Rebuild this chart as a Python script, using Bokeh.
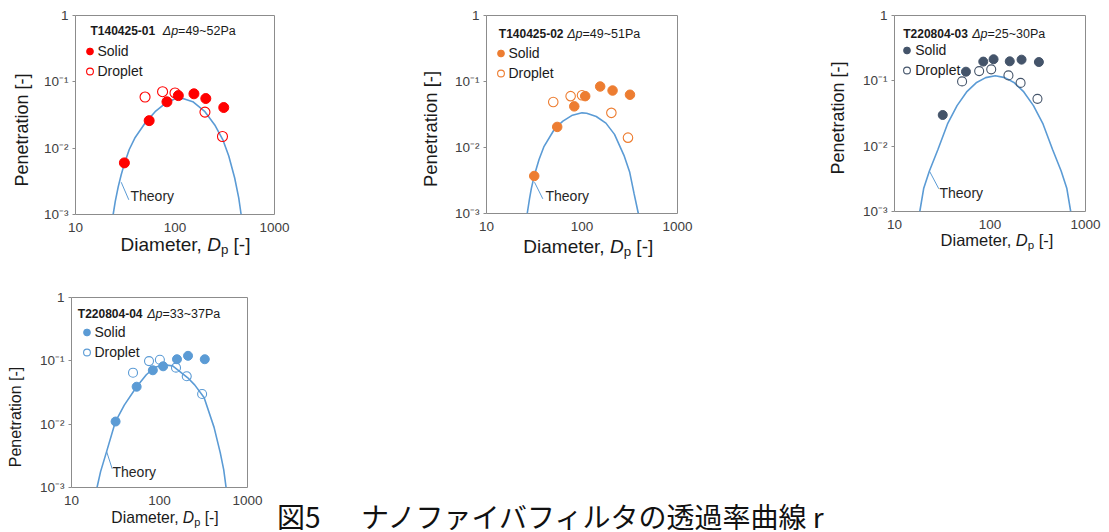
from bokeh.plotting import figure
from bokeh.models import Range1d, FixedTicker, Label, Legend, LegendItem, Arrow, Div
from bokeh.layouts import column, row
from bokeh.embed import file_html
from bokeh.resources import INLINE

# ---------------- data ----------------
ids = ["T140425-01", "T140425-02", "T220804-03", "T220804-04"]
dps = ["=49~52Pa", "=49~51Pa", "=25~30Pa", "=33~37Pa"]
x_ticks = [10, 100, 1000]
x_tick_labels = ["10", "100", "1000"]
y_ticks = [0.001, 0.01, 0.1, 1]
y_tick_labels = ["10⁻³", "10⁻²", "10⁻¹", "1"]
y_title = "Penetration [-]"
x_title = ("Diameter, ", "D", "p", " [-]")

solid_x1 = [31, 55, 83, 108, 155, 204, 309]
solid_y1 = [0.006, 0.026, 0.050, 0.062, 0.066, 0.056, 0.041]
drop_x1 = [50, 75, 100, 200, 300]
drop_y1 = [0.059, 0.071, 0.068, 0.035, 0.015]
theory_x1 = [23.9, 25.1, 26.9, 28.8, 30.9, 34.7, 39.8, 50.1, 63.1, 79.4, 100, 120, 151, 200, 251, 302, 347, 398, 437, 462]
theory_y1 = [0.001, 0.00158, 0.00263, 0.00398, 0.00575, 0.00955, 0.0145, 0.024, 0.0355, 0.0468, 0.0556, 0.0562, 0.0501, 0.0355, 0.0224, 0.0135, 0.0076, 0.00355, 0.00178, 0.001]

solid_x2 = [31.6, 55, 83, 108, 155, 209, 318]
solid_y2 = [0.0037, 0.0205, 0.042, 0.060, 0.084, 0.073, 0.063]
drop_x2 = [50, 76, 100, 203, 303]
drop_y2 = [0.049, 0.060, 0.062, 0.0335, 0.0141]
theory_x2 = [26.7, 28.2, 29.5, 31.6, 35.5, 39.8, 50.1, 55.0, 63.1, 79.4, 100, 112, 141, 178, 219, 275, 316, 351, 389]
theory_y2 = [0.001, 0.00166, 0.0024, 0.00372, 0.0066, 0.0102, 0.0178, 0.0209, 0.0251, 0.0309, 0.0335, 0.0331, 0.0295, 0.0234, 0.0158, 0.0076, 0.0042, 0.0020, 0.001]

solid_x3 = [32, 56, 85, 109, 161, 214, 325]
solid_y3 = [0.030, 0.138, 0.197, 0.214, 0.199, 0.211, 0.194]
drop_x3 = [51, 77, 103, 156, 209, 314]
drop_y3 = [0.098, 0.141, 0.150, 0.121, 0.093, 0.053]
theory_x3 = [18.4, 20.2, 23.2, 28.5, 35.9, 45.2, 56.9, 71.6, 90.2, 113.5, 143, 180, 226, 285, 359, 452, 556, 638, 700]
theory_y3 = [0.001, 0.00224, 0.00417, 0.0089, 0.0219, 0.0417, 0.0676, 0.0933, 0.112, 0.120, 0.112, 0.0933, 0.0676, 0.0417, 0.0219, 0.0089, 0.00417, 0.00224, 0.001]

solid_x4 = [31.7, 55, 84, 110, 158, 211, 327]
solid_y4 = [0.011, 0.039, 0.071, 0.082, 0.106, 0.120, 0.106]
drop_x4 = [50, 76, 101, 154, 204, 305]
drop_y4 = [0.065, 0.099, 0.104, 0.078, 0.057, 0.030]
theory_x4 = [19.5, 21.4, 25.1, 31.6, 39.8, 55.0, 70.8, 89.1, 112, 141, 208, 251, 321, 417, 490, 537, 571]
theory_y4 = [0.001, 0.00178, 0.00372, 0.011, 0.020, 0.0389, 0.0603, 0.0794, 0.0865, 0.0832, 0.0545, 0.0417, 0.0263, 0.0089, 0.00355, 0.0019, 0.001]

caption_a = "図5"
caption_b = "ナノファイバフィルタの透過率曲線 r"

# ---------------- styling ----------------
FONT = "Liberation Sans"
THEORY_COLOR = "#5B9BD5"
TEXT = "#1a1a1a"
TICK = "#404040"
ARIAL = {"Δ": 668, "p": 556}


def tw(s, f):
    return sum(ARIAL.get(c, 556) for c in s) * f / 1000.0


def lab(p, fh, x, ytop, text, size, style="normal", color=TEXT, align="left",
        baseline="middle", font=FONT):
    p.add_layout(Label(x=x, y=fh - ytop, x_units="screen", y_units="screen", text=text,
                       text_font=font, text_font_size=f"{size}px", text_font_style=style,
                       text_color=color, text_align=align, text_baseline=baseline))


panels = [
    dict(sx=solid_x1, sy=solid_y1, dx=drop_x1, dy=drop_y1, tx=theory_x1, ty=theory_y1,
         fw=199, fh=199, bl=75, br=152, bt=15, bb=55, color="#FF0000", ms=10,
         title=(15, 15, 87.3), leg=(14, 36), pen=(22, 130, 18), dia=(185.5, 243.5, 19),
         theory=(55, 180, 45.7, 166.7, 53.3, 184.3)),
    dict(sx=solid_x2, sy=solid_y2, dx=drop_x2, dy=drop_y2, tx=theory_x2, ty=theory_y2,
         fw=191, fh=198, bl=60, br=157, bt=15, bb=55, color="#ED7D31", ms=9.5,
         title=(12.3, 18.3, 80.7), leg=(14, 38.3), pen=(430.7, 129, 18.5), dia=(588.3, 245.5, 19),
         theory=(59, 180, 48, 166.7, 56.3, 183.3)),
    dict(sx=solid_x3, sy=solid_y3, dx=drop_x3, dy=drop_y3, tx=theory_x3, ty=theory_y3,
         fw=191, fh=196, bl=60, br=20, bt=15, bb=55, color="#44546A", ms=9,
         title=(8.7, 18.3, 77.7), leg=(12.7, 35), pen=(837.5, 117.5, 18), dia=(997, 240, 16.5),
         theory=(45, 177.7, 35, 155.7, 44.3, 173.3)),
    dict(sx=solid_x4, sy=solid_y4, dx=drop_x4, dy=drop_y4, tx=theory_x4, ty=theory_y4,
         fw=176, fh=190, bl=71, br=20, bt=28, bb=43, color="#5B9BD5", ms=9,
         title=(6.3, 16.3, 75.7), leg=(15, 34.7), pen=(15.5, 416.5, 16), dia=(165, 518, 15.7),
         theory=(41, 174.7, 35, 153.7, 40.7, 171.3)),
]


def make_panel(i, c):
    fw, fh = c["fw"], c["fh"]
    p = figure(frame_width=fw, frame_height=fh, min_border_left=c["bl"], min_border_right=c["br"],
               min_border_top=c["bt"], min_border_bottom=c["bb"],
               x_axis_type="log", y_axis_type="log",
               x_range=Range1d(10, 1000), y_range=Range1d(0.001, 1),
               toolbar_location=None, output_backend="svg",
               background_fill_color="white", border_fill_color="white",
               outline_line_color="#8c8c8c", outline_line_width=1)
    p.grid.visible = False

    p.xaxis.ticker = FixedTicker(ticks=x_ticks)
    p.xaxis.major_label_overrides = {t: l for t, l in zip(x_ticks, x_tick_labels)}
    p.yaxis.ticker = FixedTicker(ticks=y_ticks)
    p.yaxis.major_label_overrides = {t: l for t, l in zip(y_ticks, y_tick_labels)}
    for ax in (p.xaxis, p.yaxis):
        ax.axis_line_color = None
        ax.minor_tick_line_color = None
        ax.major_label_text_font = FONT
        ax.major_label_text_font_size = "13.5px"
        ax.major_label_text_color = TICK
    p.xaxis.major_tick_line_color = None
    p.xaxis.major_tick_out = 0
    p.xaxis.major_tick_in = 0
    p.xaxis.major_label_standoff = 8
    p.yaxis.major_tick_line_color = "#8c8c8c"
    p.yaxis.major_tick_out = 3
    p.yaxis.major_tick_in = 0
    p.yaxis.major_label_standoff = 4

    col = c["color"]
    p.line(c["tx"], c["ty"], line_color=THEORY_COLOR, line_width=1.6)
    rd = p.scatter(c["dx"], c["dy"], marker="circle", size=c["ms"], fill_color=None,
                   line_color=col, line_width=1.1)
    rs = p.scatter(c["sx"], c["sy"], marker="circle", size=c["ms"], fill_color=col,
                   line_color=col, line_width=1)

    m, c1 = c["leg"]
    legend = Legend(items=[LegendItem(label="Solid", renderers=[rs]),
                           LegendItem(label="Droplet", renderers=[rd])],
                    location=(m - 8.5, fh - c1 - 30), orientation="vertical",
                    glyph_width=17, glyph_height=20, label_height=20, label_standoff=0,
                    spacing=0, padding=0, margin=0, border_line_color=None,
                    background_fill_alpha=0, label_text_font=FONT,
                    label_text_font_size="14px", label_text_color=TEXT)
    p.add_layout(legend)

    tx0, ty0, dx0 = c["title"]
    lab(p, fh, tx0, ty0, ids[i], 12, style="bold")
    lab(p, fh, dx0, ty0, "Δp", 12.5, style="italic")
    lab(p, fh, dx0 + tw("Δp", 12.5), ty0, dps[i], 12.5)

    tlx, tly, ax0, ay0, ax1, ay1 = c["theory"]
    lab(p, fh, tlx, tly, "Theory", 14, color="#262626")
    p.add_layout(Arrow(end=None, x_start=ax0, y_start=fh - ay0, x_end=ax1, y_end=fh - ay1,
                       start_units="screen", end_units="screen",
                       line_color=THEORY_COLOR, line_width=1))
    return p


figs = [make_panel(i, c) for i, c in enumerate(panels)]

# ---- axis titles and caption: HTML text laid over the page (page coordinates) ----
DIV_LEFT, DIV_TOP = 267, 269   # where the caption Div sits on the page
base = (f"position:absolute; white-space:nowrap; line-height:1; font-family:'{FONT}'; "
        f"color:{TEXT};")
titles = []
for c in panels:
    px, py, fs = c["pen"]
    titles.append(f'<span style="{base} left:{px}px; top:{py}px; font-size:{fs}px; '
                  f'transform:translate(-50%,-50%) rotate(-90deg);">{y_title}</span>')
    dx, dy, fs = c["dia"]
    a, d, s, b = x_title
    titles.append(f'<span style="{base} left:{dx}px; top:{dy}px; font-size:{fs}px; '
                  f'transform:translate(-50%,-50%);">{a}<i>{d}</i>'
                  f'<span style="font-size:0.7em; position:relative; top:0.28em;">{s}</span>{b}</span>')

span = ("position:absolute; top:233px; font-family:'Noto Sans CJK JP'; font-size:28px; "
        "line-height:28px; color:#111111; white-space:nowrap;")
cap_html = (
    '<div style="position:relative; width:838px; height:261px;">'
    '<div style="position:absolute; left:0; top:0; width:838px; height:261px; overflow:hidden;">'
    f'<span style="{span} left:10px;">{caption_a}</span>'
    f'<span style="{span} left:94px;">{caption_b}</span></div>'
    f'<div style="position:absolute; left:-{DIV_LEFT}px; top:-{DIV_TOP}px; width:0; height:0; '
    f'overflow:visible; z-index:20;">' + "".join(titles) + '</div></div>'
)
cap = Div(text=cap_html, width=838, height=261, margin=0,
          styles={"overflow": "visible", "z-index": "20"})

layout = column(row(figs[0], figs[1], figs[2], spacing=0),
                row(figs[3], cap, spacing=0), spacing=0)

with open("out.html", "w") as fh_:
    fh_.write(file_html(layout, INLINE))
